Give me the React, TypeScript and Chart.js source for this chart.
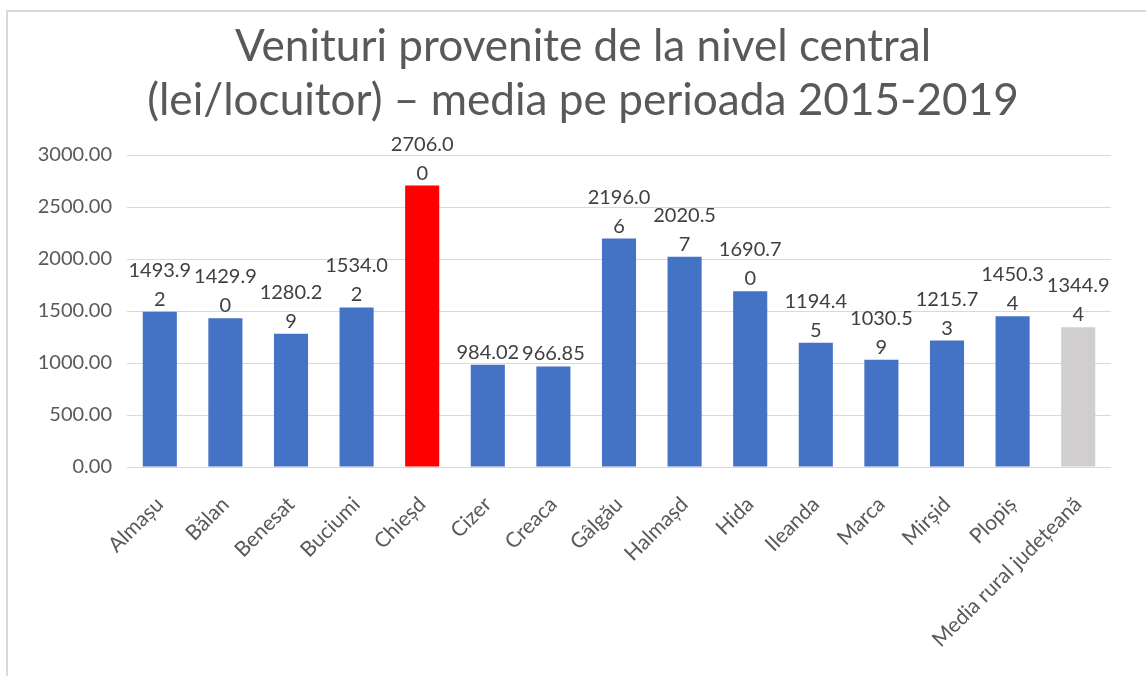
import { useEffect, useRef } from "react";
import { Chart, registerables } from "chart.js";

Chart.register(...registerables);

const titleLines = [
  "Venituri provenite de la nivel central",
  "(lei/locuitor) – media pe perioada 2015-2019",
];

const categories = [
  "Almașu",
  "Bălan",
  "Benesat",
  "Buciumi",
  "Chieșd",
  "Cizer",
  "Creaca",
  "Gâlgău",
  "Halmașd",
  "Hida",
  "Ileanda",
  "Marca",
  "Mirșid",
  "Plopiș",
  "Media rural județeană",
];

const values = [
  1493.92, 1429.9, 1280.29, 1534.02, 2706.0, 984.02, 966.85, 2196.06, 2020.57,
  1690.7, 1194.45, 1030.59, 1215.73, 1450.34, 1344.94,
];

const barColors = [
  "#4472C4", "#4472C4", "#4472C4", "#4472C4", "#FF0000", "#4472C4", "#4472C4",
  "#4472C4", "#4472C4", "#4472C4", "#4472C4", "#4472C4", "#4472C4", "#4472C4",
  "#D0CECE",
];

const yMin = 0;
const yMax = 3000;
const yStep = 500;

const FONT = "Lato";

const decorPlugin = {
  id: "decor",
  beforeDraw(chart: any) {
    const ctx = chart.ctx;
    ctx.save();
    ctx.fillStyle = "#ffffff";
    ctx.fillRect(0, 0, chart.width, chart.height);
    ctx.strokeStyle = "#D9D9D9";
    ctx.lineWidth = 2;
    ctx.strokeRect(7, 11, chart.width + 20, chart.height + 20);
    // title
    ctx.font = `100px ${FONT}`;
    const w = ctx.measureText(titleLines[1]).width;
    const size = (100 * 872) / w;
    ctx.font = `${size}px ${FONT}`;
    ctx.fillStyle = "#595959";
    ctx.textAlign = "center";
    ctx.textBaseline = "alphabetic";
    ctx.fillText(titleLines[0], 583, 61);
    ctx.fillText(titleLines[1], 583, 115);
    ctx.restore();
  },
  afterDatasetsDraw(chart: any) {
    const ctx = chart.ctx;
    const meta = chart.getDatasetMeta(0);
    const xScale = chart.scales.x;
    const catW = xScale.width / categories.length;
    ctx.save();
    ctx.font = `20px ${FONT}`;
    ctx.fillStyle = "#404040";
    ctx.textAlign = "center";
    ctx.textBaseline = "alphabetic";
    meta.data.forEach((bar: any, i: number) => {
      const text = values[i].toFixed(2);
      const lines: string[] = [];
      if (ctx.measureText(text).width > catW) {
        let k = text.length - 1;
        while (k > 1 && ctx.measureText(text.slice(0, k)).width > catW) k--;
        lines.push(text.slice(0, k), text.slice(k));
      } else {
        lines.push(text);
      }
      const lh = 29;
      let y = bar.y - 6;
      for (let j = lines.length - 1; j >= 0; j--) {
        ctx.fillText(lines[j], bar.x, y);
        y -= lh;
      }
    });
    ctx.restore();
  },
};

export default function App() {
  const ref = useRef<HTMLCanvasElement | null>(null);

  useEffect(() => {
    if (!ref.current) return;
    const chart = new Chart(ref.current, {
      type: "bar",
      data: {
        labels: categories,
        datasets: [
          {
            data: values,
            backgroundColor: barColors,
            borderWidth: 0,
            barPercentage: 0.52,
            categoryPercentage: 1,
          },
        ],
      },
      options: {
        responsive: false,
        animation: false,
        layout: { padding: { top: 155, left: 0, right: 35, bottom: 0 } },
        plugins: {
          legend: { display: false },
          title: { display: false },
          tooltip: { enabled: false },
        },
        scales: {
          x: {
            grid: { display: false },
            border: { display: false },
            ticks: {
              autoSkip: false,
              minRotation: 45,
              maxRotation: 45,
              padding: 17,
              color: "#595959",
              font: { family: FONT, size: 21 },
            },
            afterFit(scale: any) {
              scale.height = 676 - 467;
            },
          },
          y: {
            min: yMin,
            max: yMax,
            grid: { color: "#D9D9D9", lineWidth: 1, drawTicks: false },
            border: { display: false },
            ticks: {
              stepSize: yStep,
              padding: 15,
              color: "#595959",
              font: { family: FONT, size: 20 },
              callback: (v: any) => Number(v).toFixed(2),
            },
            afterFit(scale: any) {
              scale.width = 127;
            },
          },
        },
      },
      plugins: [decorPlugin],
    });
    return () => chart.destroy();
  }, []);

  return (
    <div style={{ position: "absolute", left: 0, top: 0, width: 1146, height: 676 }}>
      <canvas ref={ref} width={1146} height={676} />
    </div>
  );
}
